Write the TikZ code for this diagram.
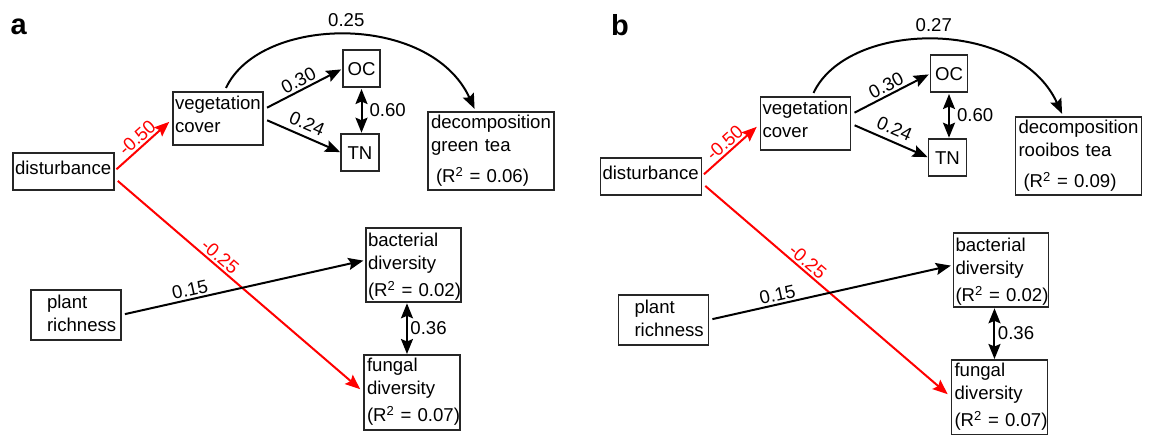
\documentclass[tikz,border=0pt]{standalone}
\usepackage{fontspec}
\setmainfont{Liberation Sans}
\usetikzlibrary{arrows.meta,calc}
\definecolor{boxc}{HTML}{262626}
\definecolor{pathred}{HTML}{FF0000}

\tikzset{
  x=1pt, y=-1pt,
  every node/.style={font=\fontsize{18.6}{23}\selectfont},
  box/.style={draw=boxc, line width=1.8pt, anchor=north west, align=left,
              inner ysep=1pt, outer sep=0pt},
  cbox/.style={draw=boxc, line width=1.8pt, anchor=north west, align=center,
              inner sep=0pt, outer sep=0pt, text height=13.3pt, text depth=0pt},
  tip/.tip={Stealth[length=15pt,width=12pt,inset=2.5pt]},
  conn/.style={line width=2pt, -tip},
  neg/.style={conn, draw=pathred},
  dbl/.style={line width=2pt, tip-tip},
  lab/.style={inner sep=2pt, sloped, above},
  neglab/.style={lab, text=pathred},
  side/.style={inner sep=0pt, anchor=west},
  panlab/.style={font=\fontsize{29}{30}\selectfont\bfseries, anchor=base west, inner sep=0pt}
}

\newcommand\sempanel[4]{%
  \node[box, text width=97pt, inner xsep=2pt, text height=14pt, text depth=9pt,
        minimum height=37pt] (#1dist) at (13,153) {disturbance};
  \node[box, text width=86pt, inner xsep=2pt, text height=14pt, text depth=32.4pt,
        minimum height=53pt] (#1veg) at (173,92) {vegetation\\cover};
  \node[cbox, minimum width=37pt, minimum height=37pt] (#1oc) at (343,50) {OC};
  \node[cbox, minimum width=38pt, minimum height=37pt] (#1tn) at (341,134) {TN};
  \node[box, text width=120pt, inner xsep=3pt, text height=14pt, text depth=59.4pt,
        minimum height=78pt] (#1dec) at (428,112)
        {decomposition\\#2\\[8pt]\mbox{\hspace*{5pt}(R\textsuperscript{2} = #3)}};
  \node[box, text width=86pt, inner xsep=2pt, text height=14pt, text depth=27.4pt,
        minimum height=50pt] (#1plant) at (31,290)
        {\hspace*{14pt}plant\\\hspace*{14pt}richness};
  \node[box, text width=91pt, inner xsep=2pt, text height=14pt, text depth=50.6pt,
        minimum height=74pt] (#1bac) at (366,228)
        {bacterial\\diversity\\[4pt]\mbox{(R\textsuperscript{2} = 0.02)}};
  \node[box, text width=90pt, inner xsep=3pt, text height=14pt, text depth=56.6pt,
        minimum height=75pt] (#1fun) at (364,355)
        {fungal\\diversity\\[4.5pt]\mbox{(R\textsuperscript{2} = 0.07)}};
  % connectors
  \draw[neg, shorten <=3.3pt, shorten >=5pt] (#1dist.east) -- node[neglab, pos=.5] {-0.50} (#1veg.west);
  \draw[neg, shorten <=5pt, shorten >=5pt] (#1dist.-7) -- node[neglab, pos=.4] {-0.25} (#1fun.west);
  \draw[conn, shorten <=4pt, shorten >=2.7pt] (#1plant.east) -- node[lab, pos=.29] {0.15} (#1bac.174);
  \draw[conn, shorten <=4.5pt, shorten >=2pt] (#1veg.11) -- node[lab, pos=.5] {0.30} (#1oc.west);
  \draw[conn, shorten <=4.5pt, shorten >=1pt] (#1veg.east) -- node[lab, above=3pt, pos=.5] {0.24} (#1tn.west);
  \draw[dbl, shorten <=2pt, shorten >=1.3pt] (#1oc.south) -- node[side, xshift=7pt] {0.60} (#1oc.south |- #1tn.north);
  \draw[dbl, shorten <=1.3pt, shorten >=1pt] (#1bac.260) -- node[side, xshift=2.5pt] {0.36} (#1bac.260 |- #1fun.north);
  \draw[conn, shorten <=4.5pt, shorten >=3.5pt] (#1veg.77)
      .. controls +(36,-77) and +(-46,-100) .. node[pos=.5, above=6pt, inner sep=2pt] {#4} (#1dec.111);
}

\begin{document}
\begin{tikzpicture}
  \fill[white] (0,0) rectangle (1154,434);
  \useasboundingbox (0,0) rectangle (1154,434);
  \node[panlab] (labA) at (10.5,34) {a};
  \node[panlab] (labB) at (611,35) {b};
  \sempanel{a}{green tea}{0.06}{0.25}
  \begin{scope}[shift={(587.5,5)}]
    \sempanel{b}{rooibos tea}{0.09}{0.27}
  \end{scope}
\end{tikzpicture}
\end{document}
